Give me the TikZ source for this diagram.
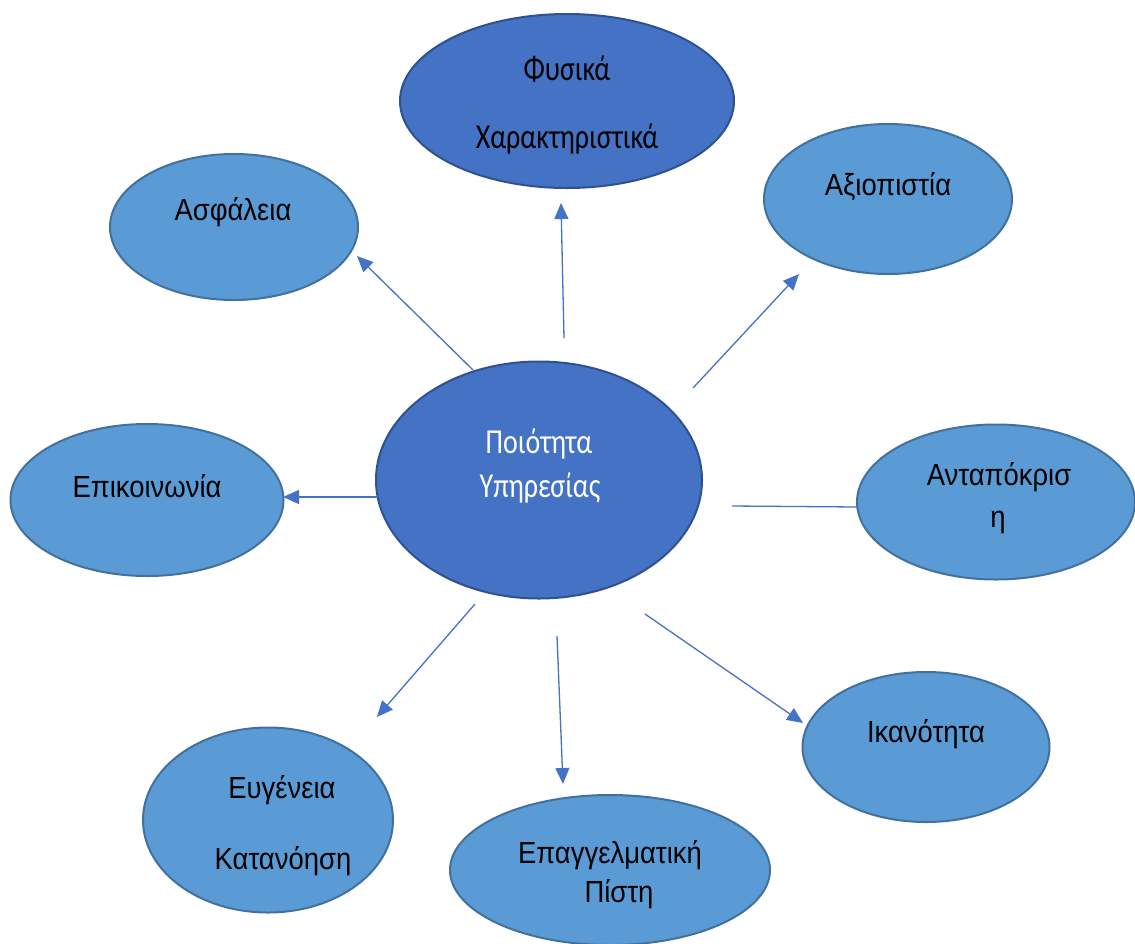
\documentclass[tikz,border=0pt]{standalone}
\usepackage{fontspec}
\setmainfont{Liberation Sans}
\newfontfamily\narrowfont[FakeStretch=0.9]{Liberation Sans}
\newfontfamily\gillfont[FakeStretch=0.80]{Carlito}
\usetikzlibrary{shapes.geometric,arrows.meta}
\definecolor{lightfill}{HTML}{5B9BD5}
\definecolor{lightedge}{HTML}{41719C}
\definecolor{darkfill}{HTML}{4472C4}
\definecolor{darkedge}{HTML}{2F528F}
\definecolor{arrowcol}{HTML}{4472C4}
\tikzset{
  lightell/.style={ellipse, draw=lightedge, fill=lightfill, line width=2pt, inner sep=0pt},
  darkell/.style={ellipse, draw=darkedge, fill=darkfill, line width=2pt, inner sep=0pt},
  blabel/.style={anchor=base, inner sep=0pt, text=black, font=\narrowfont\fontsize{30.5}{36}\selectfont},
  glabel/.style={anchor=base, inner sep=0pt, font=\gillfont\fontsize{35}{40}\selectfont},
  conn/.style={draw=arrowcol, line width=1.3pt},
  arr/.style={conn, -{Triangle[length=16pt,width=14pt]}, arrowcol},
}
\begin{document}
\begin{tikzpicture}[x=1pt,y=-1pt]
\useasboundingbox (0,0) rectangle (1135,943);
% ellipses
\node[darkell, minimum width=334pt, minimum height=174pt] (fys) at (567,101) {};
\node[lightell, minimum width=248pt, minimum height=146pt] (asf) at (234,227) {};
\node[lightell, minimum width=248pt, minimum height=150pt] (axi) at (888,199) {};
\node[lightell, minimum width=273pt, minimum height=152pt] (epi) at (147,500) {};
\node[darkell, minimum width=326pt, minimum height=237pt] (poi) at (539,480) {};
\node[lightell, minimum width=278pt, minimum height=155pt] (ant) at (996,502) {};
\node[lightell, minimum width=247pt, minimum height=150pt] (ika) at (926,747) {};
\node[lightell, minimum width=250pt, minimum height=185pt] (eug) at (268,820) {};
\node[lightell, minimum width=320pt, minimum height=150pt] (epa) at (610,870) {};
% texts
\node[glabel, text=black] (fys1) at (567,80) {Φυσικά};
\node[glabel, text=black] (fys2) at (567,148) {Χαρακτηριστικά};
\node[blabel] (asft) at (233,220) {Ασφάλεια};
\node[blabel] (axit) at (888,195) {Αξιοπιστία};
\node[blabel] (epit) at (147,497) {Επικοινωνία};
\node[glabel, text=white] (poi1) at (539,453) {Ποιότητα};
\node[glabel, text=white] (poi2) at (540,497) {Υπηρεσίας};
\node[blabel] (ant1) at (999,485) {Ανταπόκρισ};
\node[blabel] (ant2) at (998,527) {η};
\node[blabel] (ikat) at (926,742) {Ικανότητα};
\node[blabel] (eug1) at (282,798) {Ευγένεια};
\node[blabel] (eug2) at (283,869) {Κατανόηση};
\node[blabel] (epa1) at (610,863) {Επαγγελματική};
\node[blabel] (epa2) at (619,902) {Πίστη};
% connector end points
\coordinate (s1) at (473,370); \coordinate (e1) at (357,256);
\coordinate (s2) at (564,338); \coordinate (e2) at (561,203);
\coordinate (s3) at (693,388); \coordinate (e3) at (799,274);
\coordinate (s4) at (378,497); \coordinate (e4) at (283,497);
\coordinate (s5) at (732,506); \coordinate (e5) at (858,507);
\coordinate (s6) at (475,604); \coordinate (e6) at (377,717);
\coordinate (s7) at (557,636); \coordinate (e7) at (563,784);
\coordinate (s8) at (645,614); \coordinate (e8) at (803,723);
\draw[arr] (s1) -- (e1);
\draw[arr] (s2) -- (e2);
\draw[arr] (s3) -- (e3);
\draw[arr] (s4) -- (e4);
\draw[conn] (s5) -- (e5);
\draw[arr] (s6) -- (e6);
\draw[arr] (s7) -- (e7);
\draw[arr] (s8) -- (e8);
\end{tikzpicture}
\end{document}
